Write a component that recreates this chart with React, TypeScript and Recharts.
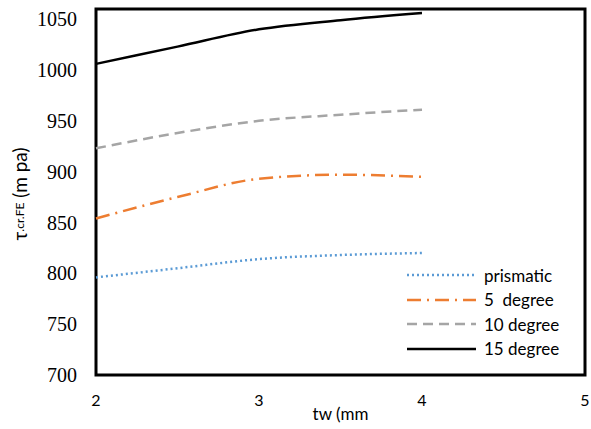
import { LineChart, Line, XAxis, YAxis, ReferenceArea } from "recharts";

const tw = [2, 2.5, 3, 3.5, 4];
const prismatic = [796, 805, 814, 818, 820];
const deg5 = [854, 875, 893, 897, 895];
const deg10 = [923, 938, 950, 956, 961];
const deg15 = [1006, 1023, 1040, 1049, 1056];

const xTicks = [2, 3, 4, 5];
const yTicks = [700, 750, 800, 850, 900, 950, 1000, 1050];

const series = [
  { key: "prismatic", name: "prismatic", color: "#5B9BD5", dash: "2 3" },
  { key: "deg5", name: "5  degree", color: "#ED7D31", dash: "14 6 2 6" },
  { key: "deg10", name: "10 degree", color: "#A5A5A5", dash: "10 6" },
  { key: "deg15", name: "15 degree", color: "#000000", dash: undefined },
];

const data = tw.map((x, i) => ({
  tw: x,
  prismatic: prismatic[i],
  deg5: deg5[i],
  deg10: deg10[i],
  deg15: deg15[i],
}));

const sans = "Lato, 'Open Sans', sans-serif";
const serif = "\"Times New Roman\", \"Liberation Serif\", \"DejaVu Serif\", serif";

function LegendBox() {
  return (
    <div
      style={{
        position: "absolute",
        left: 406,
        top: 263,
        fontFamily: sans,
        fontSize: 17,
        color: "#000",
      }}
    >
      {series.map((s) => (
        <div key={s.key} style={{ display: "flex", alignItems: "center", height: 24.5 }}>
          <svg width={72} height={10} style={{ marginRight: 6 }}>
            <line
              x1={1}
              y1={5}
              x2={70}
              y2={5}
              stroke={s.color}
              strokeWidth={2.5}
              strokeDasharray={s.dash}
            />
          </svg>
          <span style={{ whiteSpace: "pre" }}>{s.name}</span>
        </div>
      ))}
    </div>
  );
}

function YTick(props: { x?: number; y?: number; payload?: { value: number } }) {
  const { x = 0, y = 0, payload } = props;
  return (
    <text
      x={x}
      y={y}
      textAnchor="end"
      dominantBaseline="central"
      style={{ fontFamily: serif, fontSize: 20 }}
      fill="#000"
    >
      {payload?.value}
    </text>
  );
}

function YTitle() {
  const cx = 19;
  const cy = 194;
  return (
    <text
      x={cx}
      y={cy}
      transform={`rotate(-90 ${cx} ${cy})`}
      textAnchor="middle"
      dominantBaseline="central"
      fontFamily={sans}
      fontSize={19}
      fill="#000"
    >
      <tspan>τ</tspan>
      <tspan fontSize={12}>.cr.FE</tspan>
      <tspan> (m pa)</tspan>
    </text>
  );
}

export default function App() {
  return (
    <div style={{ position: "absolute", left: 0, top: 0, width: 591, height: 429, background: "#fff" }}>
      <LineChart
        width={591}
        height={429}
        data={data}
        margin={{ top: 9, right: 6, bottom: 0, left: 0 }}
      >
        <XAxis
          dataKey="tw"
          type="number"
          domain={[2, 5]}
          ticks={xTicks}
          tickSize={0}
          tickMargin={20}
          axisLine={false}
          tickLine={false}
          height={54}
          tick={{ fontFamily: sans, fontSize: 16, fill: "#000" }}
          label={{
            value: "tw (mm",
            position: "insideBottom",
            offset: 9,
            fontFamily: sans,
            fontSize: 17,
            fill: "#000",
          }}
        />
        <YAxis
          type="number"
          domain={[700, 1060]}
          ticks={yTicks}
          tickSize={0}
          tickMargin={19}
          axisLine={false}
          tickLine={false}
          width={96}
          tick={<YTick />}
          label={<YTitle />}
        />
        <ReferenceArea
          x1={2}
          x2={5}
          y1={700}
          y2={1060}
          fill="none"
          stroke="#000"
          strokeWidth={3}
          ifOverflow="visible"
        />
        {series.map((s) => (
          <Line
            key={s.key}
            dataKey={s.key}
            name={s.name}
            type="monotone"
            stroke={s.color}
            strokeWidth={2.5}
            strokeDasharray={s.dash}
            dot={false}
            isAnimationActive={false}
          />
        ))}
      </LineChart>
      <LegendBox />
    </div>
  );
}
